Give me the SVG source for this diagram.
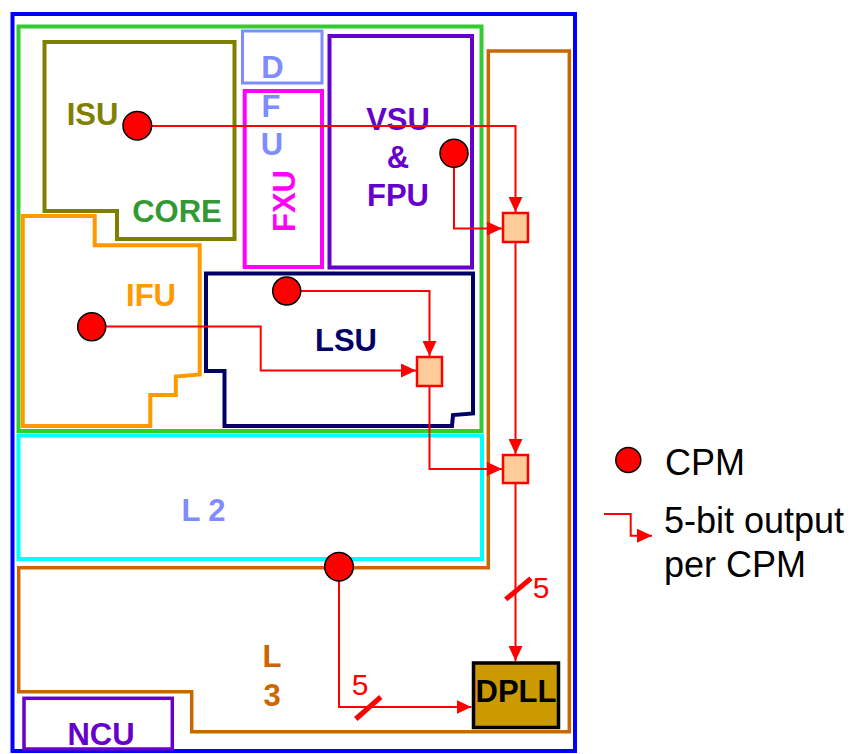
<svg xmlns="http://www.w3.org/2000/svg" width="854" height="754" viewBox="0 0 854 754">
<style>
.blk{fill:none;stroke-linejoin:miter}
.lbl{font-family:"Liberation Sans",Arial,sans-serif;font-weight:bold;font-size:31px}
.reg{font-family:"Liberation Sans",Arial,sans-serif;font-size:30px}
.leg{font-family:"Liberation Sans",Arial,sans-serif;font-size:36px;fill:#000}
.wire{fill:none;stroke:#ff0000;stroke-width:2}
.cpm{fill:#ff0000;stroke:#000;stroke-width:1.5}
.mux{fill:#ffcc99;stroke:#ff0000;stroke-width:2.5}
.slash{stroke:#ff0000;stroke-width:5}
</style>
<defs>
<marker id="ah" markerUnits="userSpaceOnUse" markerWidth="15" markerHeight="14" refX="15" refY="7" orient="auto">
<path d="M0,0 L15,7 L0,14 z" fill="#ff0000"/>
</marker>
</defs>
<rect width="854" height="754" fill="#fff"/>
<g id="chip"><rect class="blk" x="12.5" y="14" width="562.5" height="737" stroke="#0000ff" stroke-width="4"/></g>
<g id="core"><rect class="blk" x="18.5" y="26.5" width="463" height="404.5" stroke="#33cc33" stroke-width="4"/>
<text class="lbl" x="177" y="221.7" text-anchor="middle" fill="#339933">CORE</text></g>
<g id="l3"><polygon class="blk" points="488.3,51 569.3,51 569.3,731.7 191.7,731.7 191.7,691.7 18.7,691.7 18.7,567.7 488.3,567.7" stroke="#cc6600" stroke-width="3.5"/>
<text class="lbl" x="272" y="667.3" text-anchor="middle" fill="#cc6600">L</text>
<text class="lbl" x="272" y="705.7" text-anchor="middle" fill="#cc6600">3</text></g>
<g id="l2"><rect class="blk" x="18.5" y="435.5" width="463.5" height="123.5" stroke="#00ffff" stroke-width="4"/>
<text class="lbl" x="203.5" y="520.7" text-anchor="middle" fill="#7f8cff">L 2</text></g>
<g id="isu"><polygon class="blk" points="44.5,42 234.5,42 234.5,239 117,239 117,211 44.5,211" stroke="#808000" stroke-width="4"/>
<text class="lbl" x="92.5" y="125" text-anchor="middle" fill="#808000">ISU</text></g>
<g id="ifu"><polygon class="blk" points="22.8,216 94.7,216 94.7,245.3 199.7,245.3 199.7,374.5 175.8,376.5 175.8,395 150.3,395 150.3,426 22.8,426" stroke="#ff9900" stroke-width="4"/>
<text class="lbl" x="151" y="306" text-anchor="middle" fill="#ff9900">IFU</text></g>
<g id="dfu"><rect class="blk" x="242.5" y="31" width="79.5" height="52" stroke="#7f8cff" stroke-width="3"/>
<text class="lbl" x="272.5" y="78" text-anchor="middle" fill="#7f8cff">D</text>
<text class="lbl" x="271" y="116.7" text-anchor="middle" fill="#7f8cff">F</text>
<text class="lbl" x="272" y="155" text-anchor="middle" fill="#7f8cff">U</text></g>
<g id="fxu"><rect class="blk" x="244.7" y="91" width="77.3" height="176" stroke="#ff00ff" stroke-width="4"/>
<text class="lbl" transform="translate(295,201) rotate(-90)" x="0" y="0" text-anchor="middle" fill="#ff00ff">FXU</text></g>
<g id="vsu"><rect class="blk" x="329.5" y="36" width="142.5" height="231.5" stroke="#6600cc" stroke-width="4"/>
<text class="lbl" x="398" y="130" text-anchor="middle" fill="#6600cc">VSU</text>
<text class="lbl" x="398" y="167.7" text-anchor="middle" fill="#6600cc">&amp;</text>
<text class="lbl" x="398" y="205.7" text-anchor="middle" fill="#6600cc">FPU</text></g>
<g id="lsu"><polygon class="blk" points="206,273.5 473,273.5 473,413.5 453,415 452,426 224.5,426 224.5,371 206,371" stroke="#000066" stroke-width="4"/>
<text class="lbl" x="346" y="350.7" text-anchor="middle" fill="#000066">LSU</text></g>
<g id="ncu"><rect class="blk" x="24" y="698.3" width="148.3" height="50.7" stroke="#6600cc" stroke-width="3.5"/>
<text class="lbl" x="101" y="745" text-anchor="middle" fill="#6600cc">NCU</text></g>
<g id="dpll"><rect x="473.5" y="663" width="85" height="64.5" fill="#cc9900" stroke="#000" stroke-width="3.5"/>
<text class="lbl" x="516" y="701.7" text-anchor="middle" fill="#000">DPLL</text></g>
<g id="connectors">
<polyline class="wire" points="137.3,126 515.5,126 515.5,212" marker-end="url(#ah)"/>
<polyline class="wire" points="454,153 454,228.5 502,228.5" marker-end="url(#ah)"/>
<polyline class="wire" points="286.7,291 429.5,291 429.5,356" marker-end="url(#ah)"/>
<polyline class="wire" points="91.7,326.5 260.7,326.5 260.7,370.5 416,370.5" marker-end="url(#ah)"/>
<polyline class="wire" points="429.5,386 429.5,469 502,469" marker-end="url(#ah)"/>
<polyline class="wire" points="515.5,242 515.5,454" marker-end="url(#ah)"/>
<polyline class="wire" points="515.5,483 515.5,661" marker-end="url(#ah)"/>
<polyline class="wire" points="339,567 339,707 471.5,707" marker-end="url(#ah)"/>
<line class="slash" x1="505.7" y1="599.3" x2="531" y2="578.3"/>
<line class="slash" x1="355.8" y1="719" x2="380.8" y2="697"/>
<text class="reg" x="541" y="598" text-anchor="middle" fill="#ff0000">5</text>
<text class="reg" x="360" y="695" text-anchor="middle" fill="#ff0000">5</text>
</g>
<g id="mux1"><rect class="mux" x="503" y="213" width="25" height="29"/></g>
<g id="mux2"><rect class="mux" x="417" y="357" width="25" height="29"/></g>
<g id="mux3"><rect class="mux" x="503" y="455" width="25" height="28"/></g>
<g id="cpm-isu"><circle class="cpm" cx="137.3" cy="125.7" r="14.3"/></g>
<g id="cpm-vsu"><circle class="cpm" cx="454" cy="153.3" r="14"/></g>
<g id="cpm-lsu"><circle class="cpm" cx="286.7" cy="291" r="14"/></g>
<g id="cpm-ifu"><circle class="cpm" cx="91.7" cy="326.7" r="14"/></g>
<g id="cpm-l3"><circle class="cpm" cx="339" cy="566.7" r="14.3"/></g>
<g id="legend">
<circle class="cpm" cx="628.3" cy="460" r="12.5"/>
<text class="leg" x="665" y="475">CPM</text>
<polyline class="wire" points="604,514 630.7,514 630.7,535.7 652,535.7" marker-end="url(#ah)"/>
<text class="leg" x="664" y="533.3">5-bit output</text>
<text class="leg" x="664" y="576.7">per CPM</text>
</g>
</svg>
